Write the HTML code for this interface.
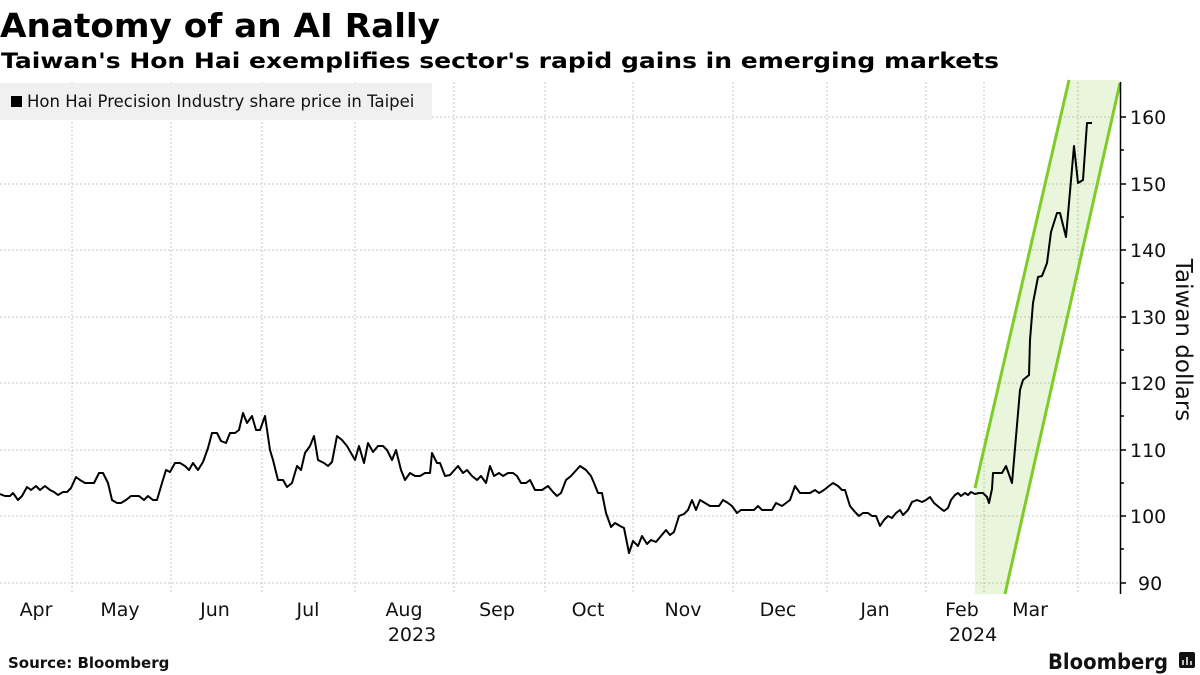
<!DOCTYPE html>
<html><head><meta charset="utf-8"><style>
html,body{margin:0;padding:0;background:#fff;}
svg{display:block;}
text{font-family:"DejaVu Sans","Liberation Sans",sans-serif;}
</style></head><body>
<svg width="1200" height="675" viewBox="0 0 1200 675" xmlns="http://www.w3.org/2000/svg">
<text x="0" y="37" font-size="33" font-weight="bold" textLength="440" lengthAdjust="spacingAndGlyphs">Anatomy of an AI Rally</text>
<text x="1" y="68" font-size="21" font-weight="bold" textLength="998" lengthAdjust="spacingAndGlyphs">Taiwan's Hon Hai exemplifies sector's rapid gains in emerging markets</text>
<!-- grid -->
<g stroke="#c8c8c8" stroke-width="1" stroke-dasharray="2,2">
<line x1="0" x2="1120" y1="117" y2="117"/><line x1="0" x2="1120" y1="184" y2="184"/>
<line x1="0" x2="1120" y1="250" y2="250"/><line x1="0" x2="1120" y1="317" y2="317"/>
<line x1="0" x2="1120" y1="383" y2="383"/><line x1="0" x2="1120" y1="450" y2="450"/>
<line x1="0" x2="1120" y1="516" y2="516"/><line x1="0" x2="1120" y1="583" y2="583"/>
<line x1="72" x2="72" y1="82" y2="594"/><line x1="171" x2="171" y1="82" y2="594"/>
<line x1="262" x2="262" y1="82" y2="594"/><line x1="355" x2="355" y1="82" y2="594"/>
<line x1="454" x2="454" y1="82" y2="594"/><line x1="545" x2="545" y1="82" y2="594"/>
<line x1="633" x2="633" y1="82" y2="594"/><line x1="733" x2="733" y1="82" y2="594"/>
<line x1="827" x2="827" y1="82" y2="594"/><line x1="926" x2="926" y1="82" y2="594"/>
<line x1="984" x2="984" y1="82" y2="594"/><line x1="1078" x2="1078" y1="82" y2="594"/>
</g>
<!-- band -->
<polygon points="975,488 1069,80 1122,80 1120,83 1005,594 975,594" fill="#7fcc28" fill-opacity="0.17"/>
<line x1="975" y1="488" x2="1069" y2="80" stroke="#7fcc28" stroke-width="3"/>
<line x1="1005" y1="594" x2="1120" y2="83" stroke="#7fcc28" stroke-width="3"/>
<!-- legend -->
<rect x="0" y="83" width="432" height="37" fill="#f0f0f0"/>
<rect x="11" y="96" width="11" height="11" fill="#000"/>
<text x="27" y="107" font-size="16.5" fill="#111">Hon Hai Precision Industry share price in Taipei</text>
<!-- series -->
<polyline fill="none" stroke="#000" stroke-width="2" stroke-linejoin="round" points="0,494 5,496 10,496 13,493 18,500 22,496 27,487 31,490 36,486 40,490 45,486 50,490 54,492 58,495 63,492 67,492 71,488 76,477 80,480 85,483 94,483 99,473 103,473 108,483 112,500 117,503 121,503 126,500 131,496 139,496 144,500 148,496 153,500 157,500 162,483 166,470 170,472 175,463 180,463 185,466 189,470 193,463 198,470 203,462 208,448 212,433 217,433 221,441 226,443 230,433 235,433 239,430 243,413 247,423 252,416 256,430 260,430 265,416 270,450 273,460 278,480 283,480 287,487 292,483 297,466 301,470 305,453 310,446 314,436 318,460 324,463 328,466 332,462 337,436 342,440 347,446 355,460 359,446 364,463 368,443 373,452 378,446 383,446 387,450 392,460 396,450 401,470 405,480 410,473 415,476 420,476 425,473 430,473 432,453 437,463 440,463 445,476 450,475 458,466 463,473 467,470 472,476 477,480 481,476 486,483 490,466 494,476 499,473 503,476 508,473 513,473 517,476 521,483 526,483 530,480 535,490 542,490 548,486 553,492 557,496 561,493 566,480 571,476 580,466 586,470 591,476 594,483 598,493 602,493 606,513 611,527 615,523 620,526 624,528 629,553 633,541 638,546 642,536 647,544 651,540 656,542 661,536 666,530 670,535 674,532 679,516 684,514 688,510 692,500 696,510 700,500 705,503 710,506 719,506 723,500 728,503 732,506 737,513 741,510 754,510 758,506 762,510 772,510 776,503 782,506 786,503 790,500 795,486 800,493 810,493 815,490 819,493 824,490 829,486 833,483 838,486 842,490 845,490 850,506 855,512 859,516 863,513 868,513 872,516 876,516 880,526 884,520 888,516 892,518 896,513 900,510 903,515 908,510 912,502 917,500 922,502 926,500 930,497 934,503 940,508 944,511 948,508 951,500 955,495 958,493 961,496 965,493 968,495 971,492 975,494 979,493 983,493 987,497 989,503 992,489 993,473 1002,473 1006,466 1012,483 1014,460 1020,390 1023,380 1029,375 1030,340 1033,303 1038,277 1042,276 1047,263 1051,232 1057,213 1060,213 1066,237 1074,146 1078,183 1083,180 1087,123 1092,123"/>
<!-- y axis -->
<line x1="1120.5" y1="82" x2="1120.5" y2="594" stroke="#000" stroke-width="1.5"/>
<g stroke="#000" stroke-width="1.5">
<line x1="1120" x2="1126" y1="117" y2="117"/><line x1="1120" x2="1126" y1="184" y2="184"/>
<line x1="1120" x2="1126" y1="250" y2="250"/><line x1="1120" x2="1126" y1="317" y2="317"/>
<line x1="1120" x2="1126" y1="383" y2="383"/><line x1="1120" x2="1126" y1="450" y2="450"/>
<line x1="1120" x2="1126" y1="516" y2="516"/><line x1="1120" x2="1126" y1="583" y2="583"/>
<line x1="1120" x2="1124" y1="150" y2="150"/><line x1="1120" x2="1124" y1="217" y2="217"/>
<line x1="1120" x2="1124" y1="283" y2="283"/><line x1="1120" x2="1124" y1="350" y2="350"/>
<line x1="1120" x2="1124" y1="416" y2="416"/><line x1="1120" x2="1124" y1="483" y2="483"/>
<line x1="1120" x2="1124" y1="549" y2="549"/>
</g>
<g font-size="19" fill="#111">
<text x="1130" y="124">160</text><text x="1130" y="191">150</text><text x="1130" y="257">140</text>
<text x="1130" y="324">130</text><text x="1130" y="390">120</text><text x="1130" y="457">110</text>
<text x="1130" y="523">100</text><text x="1138" y="590">90</text>
</g>
<text transform="translate(1176,340) rotate(90)" font-size="23" text-anchor="middle" fill="#111">Taiwan dollars</text>
<!-- x labels -->
<g font-size="19" fill="#111" text-anchor="middle">
<text x="36" y="616">Apr</text><text x="120" y="616">May</text><text x="215" y="616">Jun</text>
<text x="308" y="616">Jul</text><text x="404" y="616">Aug</text><text x="497" y="616">Sep</text>
<text x="588" y="616">Oct</text><text x="683" y="616">Nov</text><text x="778" y="616">Dec</text>
<text x="875" y="616">Jan</text><text x="962" y="616">Feb</text><text x="1030" y="616">Mar</text>
<text x="412" y="641">2023</text><text x="973" y="641">2024</text>
</g>
<text x="8" y="668" font-size="15" font-weight="bold" fill="#111">Source: Bloomberg</text>
<text x="1048" y="669" font-size="21" font-weight="bold" fill="#111" textLength="120" lengthAdjust="spacingAndGlyphs">Bloomberg</text>
<rect x="1179" y="652" width="16" height="16" rx="2" fill="#111"/>
<g stroke="#fff" stroke-width="1.5"><line x1="1183" y1="665" x2="1183" y2="660"/><line x1="1187" y1="665" x2="1187" y2="657"/><line x1="1191" y1="665" x2="1191" y2="661"/></g>
</svg>
</body></html>
